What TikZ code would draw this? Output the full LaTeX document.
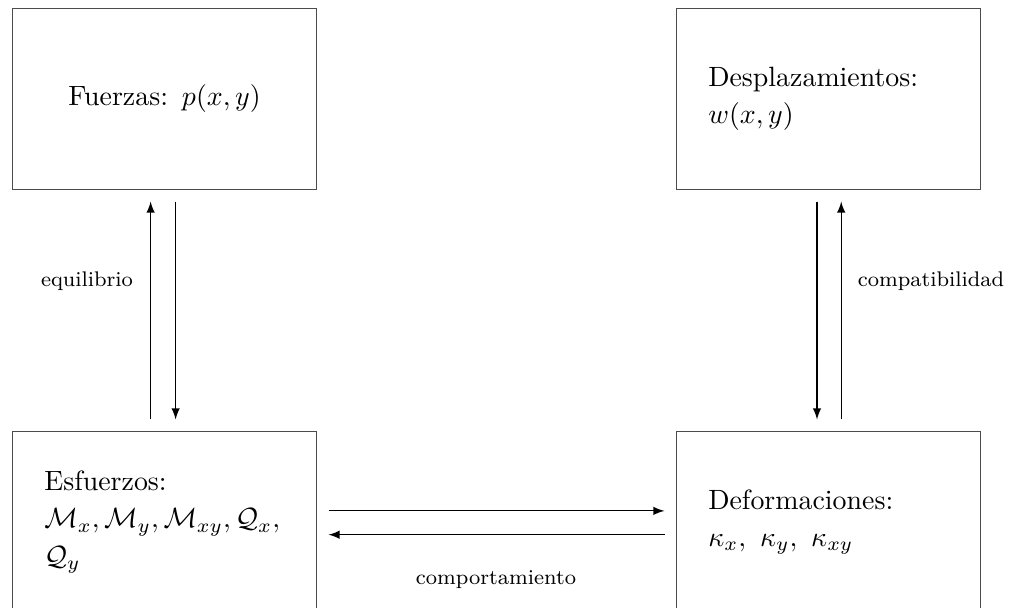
\documentclass[tikz,border=0pt]{standalone}
\usepackage{amsmath,amssymb}
\usetikzlibrary{calc, positioning, arrows}
\tikzstyle{caja}=[draw=black!70, minimum width=3.84cm, minimum height=2.29cm, inner sep=0pt, text width=3.03cm, align=left, font=\linespread{1.12}\selectfont]
\tikzstyle{flecha}=[-latex, shorten <=0.14cm, shorten >=0.14cm]
\tikzstyle{etiqueta}=[font=\fontsize{7.6}{9}\selectfont]

\begin{document}
\begin{tikzpicture}[x=0.0126cm, y=-0.0126cm]
		\useasboundingbox (0,0) rectangle (1009,608);

		\node[caja, align=center] (Fue) at (164.5,99) {Fuerzas: $p(x,y)$};
		\node[caja] (Des) at (828.5,99) {Desplazamientos:\\ $w(x,y)$};
		\node[caja] (Esf) at (164.5,522) {Esfuerzos:\\ $\mathcal{M}_x, \mathcal{M}_y, \mathcal{M}_{xy}, \mathcal{Q}_x,$\\ $\mathcal{Q}_y$};
		\node[caja] (Def) at (828.5,522) {Deformaciones:\\ $\kappa_x,\ \kappa_y,\ \kappa_{xy}$};

		\draw[flecha] ([xshift=-0.175cm]Esf.north) -- ([xshift=-0.175cm]Fue.south);
		\draw[flecha] ([xshift=0.14cm]Fue.south) -- ([xshift=0.14cm]Esf.north);
		\draw[flecha] ([xshift=-0.145cm]Des.south) -- ([xshift=-0.145cm]Def.north);
		\draw[flecha] ([xshift=0.16cm]Def.north) -- ([xshift=0.16cm]Des.south);
		\draw[flecha] ([yshift=0.14cm]Esf.east) -- ([yshift=0.14cm]Def.west);
		\draw[flecha] ([yshift=-0.16cm]Def.west) -- ([yshift=-0.16cm]Esf.east);

		\node[etiqueta] (equ) at (87,281) {equilibrio};
		\node[etiqueta] (com) at (931,281) {compatibilidad};
		\node[etiqueta] (cmp) at (496,580) {comportamiento};

	\end{tikzpicture}
\end{document}
